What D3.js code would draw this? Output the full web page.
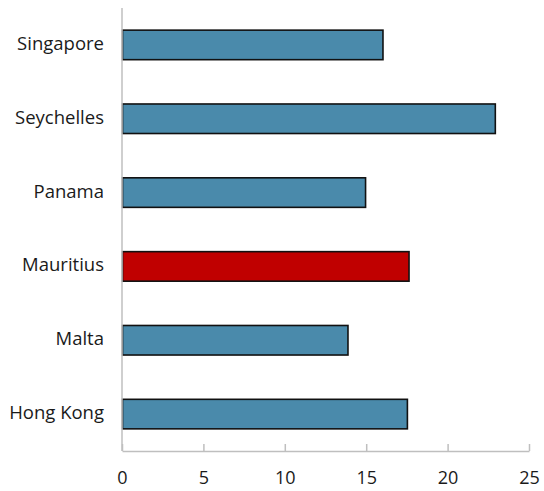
<!DOCTYPE html>
<html><head><meta charset="utf-8">
<script src="https://cdn.jsdelivr.net/npm/d3@7"></script>
<style>body{margin:0;background:#fff}svg{display:block}</style>
</head><body>
<script>
const categories = ["Singapore","Seychelles","Panama","Mauritius","Malta","Hong Kong"];
const values = [16.0, 22.9, 14.93, 17.6, 13.85, 17.5];
const highlight = ["Mauritius"];
const xTicks = [0,5,10,15,20,25];

const W=544,H=491;
const svg=d3.select("body").append("svg").attr("width",W).attr("height",H);
const x=d3.scaleLinear().domain([0,25]).range([122,529]);
const y=d3.scaleBand().domain(categories).range([8,451]).paddingInner(0.6).paddingOuter(0.3);
const font="'Open Sans', 'Noto Sans', sans-serif";

svg.selectAll("rect.bar").data(categories).enter().append("rect")
  .attr("x",x(0)+0.5).attr("y",d=>y(d))
  .attr("width",(d,i)=>x(values[i])-x(0))
  .attr("height",y.bandwidth())
  .attr("fill",d=>highlight.includes(d)?"#c00000":"#4a8aab")
  .attr("stroke","#111").attr("stroke-width",1.6);

svg.append("line").attr("x1",x(0)).attr("x2",x(0)).attr("y1",8).attr("y2",451)
  .attr("stroke","#bfbfbf").attr("stroke-width",1.5);
const ax=svg.append("g").attr("transform","translate(0,451)")
  .call(d3.axisBottom(x).tickValues(xTicks).tickSize(-7).tickPadding(0).tickSizeOuter(0));
ax.select(".domain").attr("stroke","#bfbfbf").attr("stroke-width",1.5);
ax.selectAll(".tick line").attr("stroke","#bfbfbf").attr("stroke-width",1.5);
ax.selectAll(".tick text").attr("dy",null).attr("y",28).attr("dominant-baseline","middle")
  .attr("font-family",font).attr("font-size",18).attr("fill","#1a1a1a");

svg.selectAll("text.cat").data(categories).enter().append("text")
  .attr("x",104).attr("y",d=>y(d)+y.bandwidth()/2).attr("text-anchor","end")
  .attr("dominant-baseline","middle").attr("font-family",font).attr("font-size",18.5).attr("fill","#1a1a1a")
  .text(d=>d);
</script>
</body></html>
